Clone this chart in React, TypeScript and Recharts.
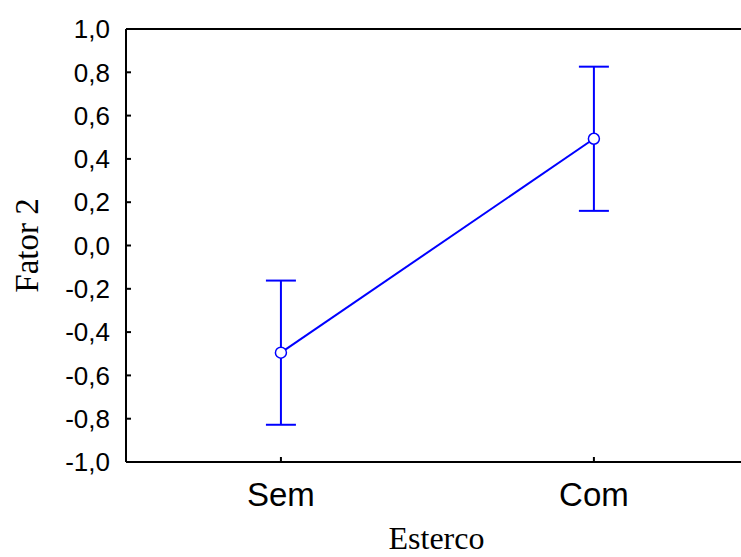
import React from 'react';
import { LineChart, Line, XAxis, YAxis, ErrorBar, ReferenceLine } from 'recharts';

const categories = ['Sem', 'Com'];
const means = [-0.495, 0.493];
const errors = [0.333, 0.333];
const yTicks = [-1.0, -0.8, -0.6, -0.4, -0.2, 0.0, 0.2, 0.4, 0.6, 0.8, 1.0];

const data = categories.map((name, i) => ({ x: i, name, mean: means[i], err: errors[i] }));

const BLUE = '#0000ff';
const SANS = 'Liberation Sans, Arial, sans-serif';
const SERIF = 'Liberation Serif, Times New Roman, serif';
const fmtY = (v: number) => (Math.abs(v) < 1e-9 ? '0,0' : v.toFixed(1).replace('.', ','));
const fmtX = (v: number) => categories[Math.round(v)] ?? '';

export default function App() {
  return (
    <div style={{ position: 'absolute', left: 0, top: 0, width: 741, height: 557, background: '#fff' }}>
      <LineChart width={741} height={557} data={data} margin={{ top: 29, right: 0, bottom: 0, left: 0 }}>
        <XAxis
          type="number"
          dataKey="x"
          domain={[-0.495, 1.47]}
          ticks={[0, 1]}
          tickFormatter={fmtX}
          allowDataOverflow
          interval={0}
          height={95}
          stroke="#000"
          strokeWidth={2}
          tickSize={-5}
          tickMargin={26}
          tick={{ fill: '#000', fontSize: 33, fontFamily: SANS }}
          label={{ value: 'Esterco', position: 'insideBottom', offset: 8, dx: 3, fill: '#000', fontSize: 32, fontFamily: SERIF }}
        />
        <YAxis
          type="number"
          domain={[-1, 1]}
          ticks={yTicks}
          tickFormatter={fmtY}
          allowDataOverflow
          interval={0}
          width={126}
          stroke="#000"
          strokeWidth={2}
          tickSize={-5}
          tickMargin={21}
          tick={{ fill: '#000', fontSize: 26, fontFamily: SANS }}
          label={{ value: 'Fator 2', angle: -90, position: 'insideLeft', offset: 26, fill: '#000', fontSize: 33, fontFamily: SERIF, style: { textAnchor: 'middle' } }}
        />
        <ReferenceLine y={1} stroke="#000" strokeWidth={2} ifOverflow="visible" />
        <Line
          dataKey="mean"
          stroke={BLUE}
          strokeWidth={2}
          isAnimationActive={false}
          dot={{ r: 5.5, fill: '#fff', stroke: BLUE, strokeWidth: 1.5 }}
          activeDot={false}
        >
          <ErrorBar dataKey="err" direction="y" width={15} stroke={BLUE} strokeWidth={2} isAnimationActive={false} />
        </Line>
      </LineChart>
    </div>
  );
}
